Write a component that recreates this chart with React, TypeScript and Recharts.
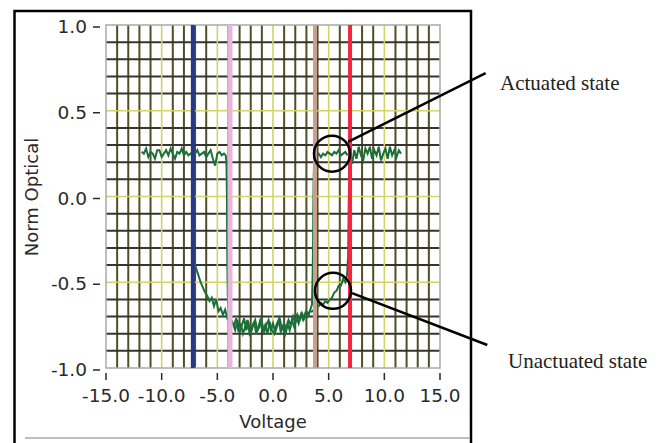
import { LineChart, Line, XAxis, YAxis, CartesianGrid, ReferenceLine, ReferenceDot, ReferenceArea } from "recharts"

// sweep A: plateau -> drop at pink cursor -> bottom -> rise at tan cursor -> plateau
const aVolt = [
  -11.8, -11.6, -11.4, -11.2, -11.0, -10.8, -10.6, -10.4, -10.2, -10.0, -9.8, -9.6, -9.4, -9.2, -9.0, -8.8, -8.6, -8.4, -8.2, -8.0,
  -7.8, -7.6, -7.4, -7.2, -7.0, -6.8, -6.6, -6.4, -6.2, -6.0, -5.8, -5.6, -5.4, -5.2, -5.0, -4.8, -4.6, -4.4, -4.25,
  -4.18, -4.14, -4.12, -4.1, -4.06, -3.95, -3.8,
  -3.6, -3.4, -3.2, -3.0, -2.8, -2.6, -2.4, -2.2, -2.0, -1.8, -1.6, -1.4, -1.2, -1.0, -0.8, -0.6, -0.4, -0.2,
  0.0, 0.2, 0.4, 0.6, 0.8, 1.0, 1.2, 1.4, 1.6, 1.8, 2.0, 2.2, 2.4, 2.6, 2.8, 3.0, 3.2, 3.4,
  3.5, 3.56, 3.6, 3.62, 3.65, 3.7, 3.9, 4.1,
  4.3, 4.5, 4.7, 4.9, 5.1, 5.3, 5.5, 5.7, 5.9, 6.1, 6.3, 6.5, 6.7,
]
const aNorm = [
  0.26, 0.25, 0.28, 0.23, 0.26, 0.25, 0.22, 0.27, 0.27, 0.23, 0.25, 0.27, 0.24, 0.28, 0.25, 0.22, 0.26, 0.25, 0.28, 0.24,
  0.26, 0.24, 0.25, 0.26, 0.25, 0.27, 0.24, 0.25, 0.26, 0.23, 0.25, 0.27, 0.22, 0.18, 0.25, 0.26, 0.24, 0.25, 0.24,
  0.2, 0.02, -0.2, -0.4, -0.58, -0.68, -0.72,
  -0.74, -0.78, -0.72, -0.79, -0.75, -0.71, -0.78, -0.74, -0.8, -0.75, -0.72, -0.78, -0.76, -0.73, -0.79, -0.75, -0.72, -0.78,
  -0.74, -0.79, -0.75, -0.71, -0.77, -0.74, -0.78, -0.72, -0.75, -0.7, -0.74, -0.69, -0.72, -0.68, -0.71, -0.67, -0.69, -0.65,
  -0.63, -0.45, -0.28, -0.08, 0.1, 0.22, 0.24, 0.25,
  0.23, 0.25, 0.24, 0.26, 0.25, 0.24, 0.26, 0.25, 0.27, 0.24, 0.25, 0.26, 0.24,
]

// sweep B: drop at blue cursor -> slope -> bottom -> slow rise -> jump at red cursor -> plateau
const bVolt = [
  -7.2, -7.1, -6.9, -6.7, -6.5, -6.3, -6.1, -5.9, -5.7, -5.5, -5.3, -5.1, -4.9, -4.7, -4.5, -4.3, -4.1, -3.9, -3.7,
  -3.5, -3.3, -3.1, -2.9, -2.7, -2.5, -2.3, -2.1, -1.9, -1.7, -1.5, -1.3, -1.1, -0.9, -0.7, -0.5, -0.3, -0.1,
  0.1, 0.3, 0.5, 0.7, 0.9, 1.1, 1.3, 1.5, 1.7, 1.9, 2.1, 2.3, 2.5, 2.7, 2.9, 3.1, 3.3, 3.5,
  3.7, 3.9, 4.1, 4.3, 4.5, 4.7, 4.9, 5.1, 5.3, 5.5, 5.7, 5.9, 6.1, 6.3, 6.5, 6.65, 6.75, 6.8, 6.85, 6.95,
  7.1, 7.3, 7.5, 7.7, 7.9, 8.1, 8.3, 8.5, 8.7, 8.9, 9.1, 9.3, 9.5, 9.7, 9.9, 10.1, 10.3, 10.5, 10.7, 10.9, 11.1, 11.3, 11.5,
]
const bNorm = [
  0.24, -0.38, -0.42, -0.46, -0.5, -0.53, -0.56, -0.58, -0.61, -0.59, -0.64, -0.6, -0.67, -0.65, -0.69, -0.66, -0.71, -0.69, -0.73,
  -0.75, -0.71, -0.79, -0.74, -0.8, -0.76, -0.72, -0.8, -0.77, -0.73, -0.8, -0.76, -0.71, -0.79, -0.75, -0.8, -0.73, -0.78,
  -0.8, -0.75, -0.72, -0.79, -0.76, -0.8, -0.74, -0.78, -0.72, -0.76, -0.7, -0.74, -0.69, -0.72, -0.68, -0.7, -0.67, -0.67,
  -0.66, -0.64, -0.64, -0.62, -0.63, -0.61, -0.62, -0.6, -0.59, -0.56, -0.55, -0.52, -0.52, -0.48, -0.5, -0.46, -0.35, -0.05, 0.15, 0.24,
  0.19, 0.27, 0.22, 0.29, 0.24, 0.21, 0.28, 0.25, 0.29, 0.22, 0.27, 0.24, 0.29, 0.21, 0.25, 0.28, 0.22, 0.29, 0.24, 0.27, 0.23, 0.27, 0.25,
]

const xTicks = [-15, -10, -5, 0, 5, 10, 15]
const yTicks = [-1, -0.5, 0, 0.5, 1]
const minorV = [-14, -13, -12, -11, -9, -8, -7, -6, -4, -3, -2, -1, 1, 2, 3, 4, 6, 7, 8, 9, 11, 12, 13, 14]
const majorV = [-10, -5, 0, 5, 10]
const minorH = [-0.9, -0.8, -0.7, -0.6, -0.4, -0.3, -0.2, -0.1, 0.1, 0.2, 0.3, 0.4, 0.6, 0.7, 0.8, 0.9]
const majorH = [-0.5, 0, 0.5]

// cursors: voltage, colour, width
const cursors = [
  { v: -7.2, color: "#27388a", w: 4 },
  { v: -3.86, color: "#e8b6dc", w: 5 },
  { v: 3.77, color: "#c9a08e", w: 4 },
  { v: 6.92, color: "#f2263e", w: 4 },
]

const sweepA = aVolt.map((v, i) => ({ v, n: aNorm[i] }))
const sweepB = bVolt.map((v, i) => ({ v, n: bNorm[i] }))

const font = "'DejaVu Sans', Verdana, sans-serif"
const ink = "#2a2a2a"

const XTick = ({ x, y, payload }: any) => (
  <g>
    <line x1={x} x2={x} y1={y + 5} y2={y + 12} stroke={ink} strokeWidth={1.5} />
    <text x={x} y={y + 34} textAnchor="middle" fontFamily={font} fontSize={18.5} fill={ink}>
      {payload.value.toFixed(1)}
    </text>
  </g>
)

const YTick = ({ x, y, payload }: any) => (
  <g>
    <line x1={x - 13} x2={x - 6} y1={y + 2} y2={y + 2} stroke={ink} strokeWidth={1.5} />
    <text x={x - 19} y={y + 8} textAnchor="end" fontFamily={font} fontSize={18.5} fill={ink}>
      {payload.value.toFixed(1)}
    </text>
  </g>
)

export default function App() {
  return (
    <div style={{ position: "absolute", left: 0, top: 0, width: 665, height: 443, background: "#fff" }}>
      <LineChart width={665} height={443} margin={{ top: 25, right: 225, bottom: 0, left: 0 }}>
        <XAxis dataKey="v" type="number" domain={[-15, 15]} ticks={xTicks} height={75} tickSize={0} tickMargin={0}
          axisLine={false} tickLine={false} tick={<XTick />} interval={0}
          label={{ value: "Voltage", position: "insideBottom", offset: 15, fontFamily: font, fontSize: 18, fill: ink }} />
        <YAxis dataKey="n" type="number" domain={[-1, 1]} ticks={yTicks} width={106} tickSize={0} tickMargin={0}
          axisLine={false} tickLine={false} tick={<YTick />} interval={0} />
        <CartesianGrid horizontal={false} verticalValues={minorV} stroke="#4f4f26" strokeWidth={2} />
        <CartesianGrid vertical={false} horizontalValues={minorH} stroke="#35352b" strokeWidth={2} />
        <CartesianGrid horizontal={false} verticalValues={majorV} stroke="#d3d36a" strokeWidth={1.6} />
        <CartesianGrid vertical={false} horizontalValues={majorH} stroke="#d3d36a" strokeWidth={1.6} />
        <ReferenceArea x1={-15} x2={15} y1={-1} y2={1} fill="none" stroke="#a9a9a9" strokeWidth={1.5} />
        <Line data={sweepA} dataKey="n" stroke="#1a7038" strokeWidth={2} dot={false} isAnimationActive={false} />
        <Line data={sweepB} dataKey="n" stroke="#1a7038" strokeWidth={2} dot={false} isAnimationActive={false} />
        {cursors.map((c) => (
          <ReferenceLine key={c.v} x={c.v} stroke={c.color} strokeWidth={c.w} />
        ))}
        <ReferenceDot x={5.3} y={0.25} r={18} fill="none" stroke="#000" strokeWidth={2.5} />
        <ReferenceDot x={5.39} y={-0.55} r={18} fill="none" stroke="#000" strokeWidth={2.5} />
        <ReferenceLine segment={[{ x: 6.74, y: 0.318 }, { x: 19.1, y: 0.72 }]} ifOverflow="visible" stroke="#000" strokeWidth={2.5} />
        <ReferenceLine segment={[{ x: 7.1, y: -0.563 }, { x: 19.25, y: -0.866 }]} ifOverflow="visible" stroke="#000" strokeWidth={2.5} />
      </LineChart>
      <svg width={665} height={443} style={{ position: "absolute", left: 0, top: 0, pointerEvents: "none" }}>
        <polyline points="14.5,443 14.5,11 471,11 471,443" fill="none" stroke="#000" strokeWidth={2.5} />
        <line x1={25} x2={469} y1={438} y2={438} stroke="#bdbdbd" strokeWidth={2} />
        <text transform="translate(38,197) rotate(-90)" textAnchor="middle" fontFamily={font} fontSize={18} fill={ink}>
          Norm Optical
        </text>
        <text x={500} y={90} fontFamily="'Liberation Serif', 'Times New Roman', serif" fontSize={21} fill="#222">
          Actuated state
        </text>
        <text x={508} y={368} fontFamily="'Liberation Serif', 'Times New Roman', serif" fontSize={21} fill="#222">
          Unactuated state
        </text>
      </svg>
    </div>
  )
}
